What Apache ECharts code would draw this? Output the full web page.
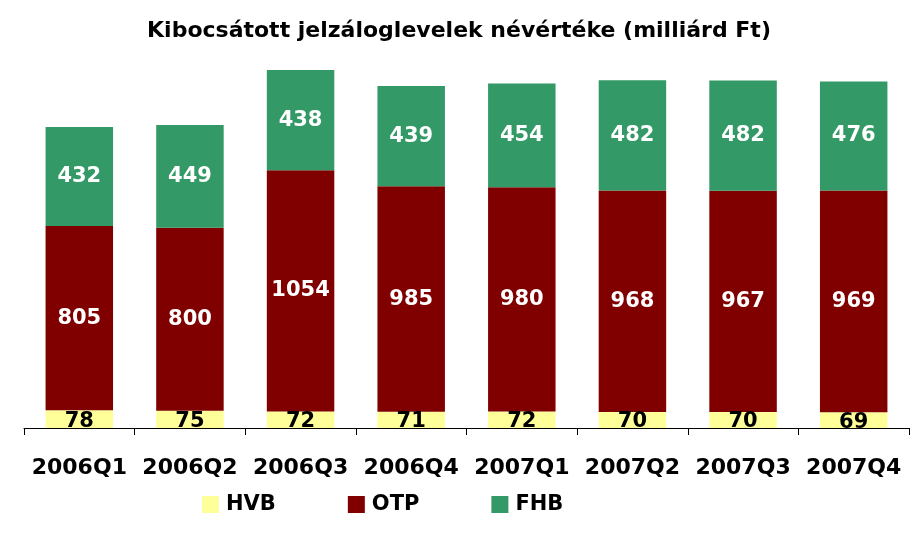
<!DOCTYPE html>
<html>
<head>
<meta charset="utf-8">
<script src="https://cdn.jsdelivr.net/npm/echarts@6/dist/echarts.min.js"></script>
<style>
  html, body { margin: 0; padding: 0; background: #fff; }
  #chart { width: 918px; height: 534px; }
</style>
</head>
<body>
<div id="chart"></div>
<script>
const categories = ['2006Q1', '2006Q2', '2006Q3', '2006Q4', '2007Q1', '2007Q2', '2007Q3', '2007Q4'];
const hvb = [78, 75, 72, 71, 72, 70, 70, 69];
const otp = [805, 800, 1054, 985, 980, 968, 967, 969];
const fhb = [432, 449, 438, 439, 454, 482, 482, 476];

const FONT = 'DejaVu Sans';

const chart = echarts.init(document.getElementById('chart'));

const labelStyle = (color) => ({
  show: true,
  position: 'inside',
  color: color,
  fontFamily: FONT,
  fontWeight: 'bold',
  fontSize: 21
});

chart.setOption({
  animation: false,
  title: {
    text: 'Kibocsátott jelzáloglevelek névértéke (milliárd Ft)',
    left: 'center',
    top: 15,
    textStyle: { fontFamily: FONT, fontWeight: 'bold', fontSize: 22, color: '#000' }
  },
  legend: {
    data: ['HVB', 'OTP', 'FHB'],
    left: 197,
    top: 489,
    itemWidth: 17,
    itemHeight: 17,
    itemGap: 72,
    icon: 'rect',
    textStyle: { fontFamily: FONT, fontWeight: 'bold', fontSize: 21, color: '#000', padding: [0, 0, 0, 2] }
  },
  grid: { left: 24, right: 9, top: 39, bottom: 106 },
  xAxis: {
    type: 'category',
    data: categories,
    axisLine: { lineStyle: { color: '#000', width: 1 } },
    axisTick: { show: true, length: 7, lineStyle: { color: '#000' } },
    axisLabel: {
      margin: 29,
      color: '#000',
      fontFamily: FONT,
      fontWeight: 'bold',
      fontSize: 22,
      interval: 0
    }
  },
  yAxis: {
    type: 'value',
    min: 0,
    max: 1700,
    show: false,
    splitLine: { show: false }
  },
  series: [
    {
      name: 'HVB', type: 'bar', stack: 'total', data: hvb,
      barWidth: '61%',
      itemStyle: { color: '#FFFF99' },
      label: Object.assign(labelStyle('#000'), { offset: [0, 2] })
    },
    {
      name: 'OTP', type: 'bar', stack: 'total', data: otp,
      itemStyle: { color: '#800000' },
      label: labelStyle('#fff')
    },
    {
      name: 'FHB', type: 'bar', stack: 'total', data: fhb,
      itemStyle: { color: '#339966' },
      label: labelStyle('#fff')
    }
  ]
});
</script>
</body>
</html>
